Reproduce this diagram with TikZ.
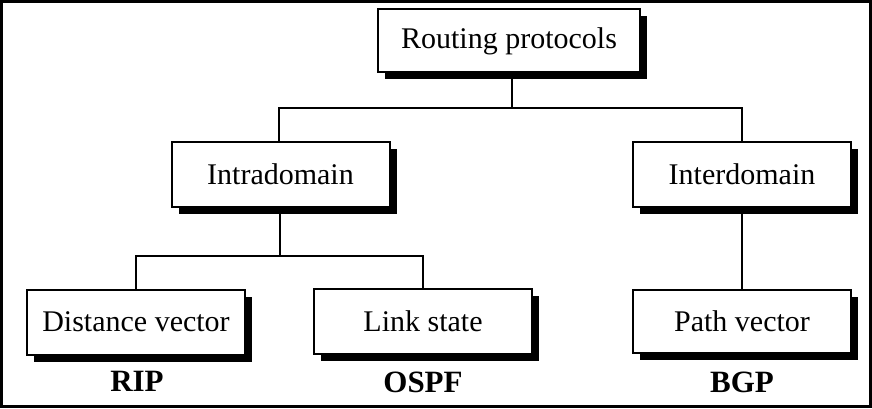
\documentclass[tikz,border=0pt]{standalone}
\usepackage{fontspec}
\setmainfont{Liberation Serif}
\usetikzlibrary{shadows}

\begin{document}
\begin{tikzpicture}[x=1pt,y=-1pt,
  box/.style={draw, line width=2pt, fill=white, inner sep=0pt,
    minimum width=218pt, minimum height=65pt,
    font=\fontsize{30}{36}\selectfont,
    drop shadow={shadow xshift=7pt, shadow yshift=-7pt, fill=black, opacity=1}},
  proto/.style={font=\fontsize{31}{36}\selectfont\bfseries},
  wire/.style={line width=2.4pt}]

\useasboundingbox (0,0) rectangle (872,409);
\draw[line width=3pt] (1.5,1.5) rectangle (870,406.5);

\node[box, minimum width=262pt, minimum height=63pt] (root) at (509,41) {Routing protocols};

\node[box] (intra) at (280.5,174.5) {Intradomain};
\node[box] (inter) at (742,174) {Interdomain};

\node[box] (dv) at (136,322) {Distance vector};
\node[box] (ls) at (423,321) {Link state};
\node[box, minimum height=63pt] (pv) at (742,321.5) {Path vector};

\node[proto] (rip) at (137,381) {RIP};
\node[proto] (ospf) at (423,382) {OSPF};
\node[proto] (bgp) at (742,382) {BGP};

\coordinate (j1) at (512,108);
\coordinate (j2) at (280,256);

\draw[wire] (root.south -| j1) -- (j1);
\draw[wire] (intra.north -| 279,0) |- (j1) -| (inter.north);
\draw[wire] (intra.south -| j2) -- (j2);
\draw[wire] (dv.north) |- (j2) -| (ls.north);
\draw[wire] (inter.south) -- (pv.north);

\end{tikzpicture}
\end{document}
